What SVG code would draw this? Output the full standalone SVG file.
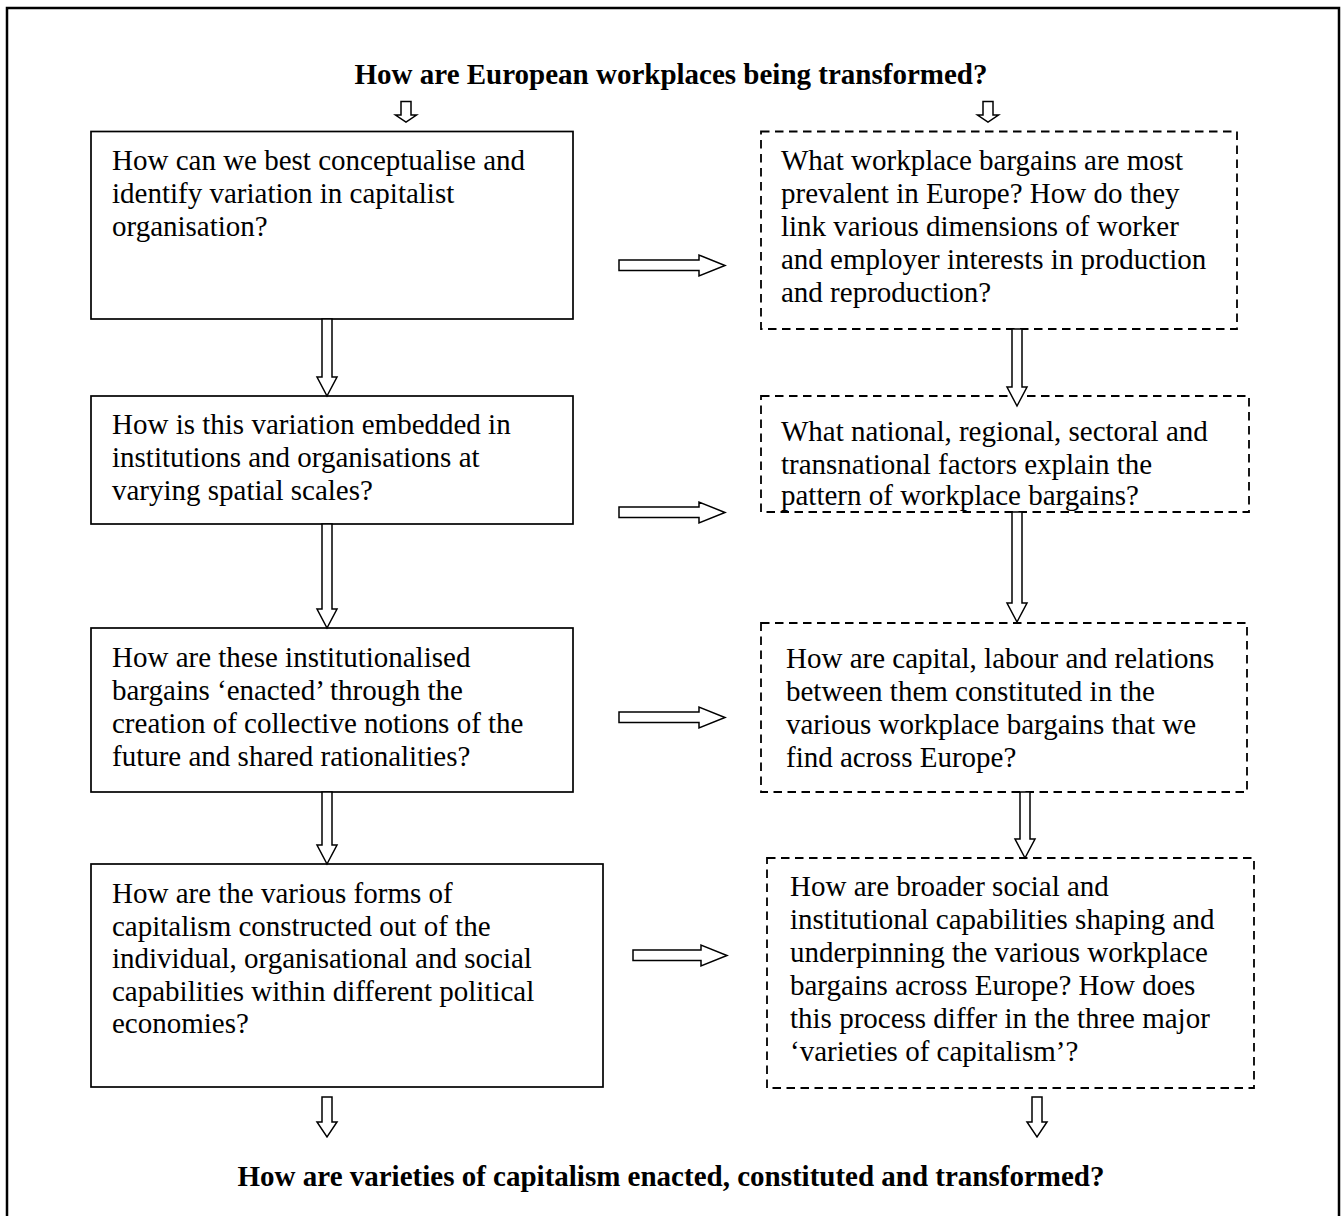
<svg xmlns="http://www.w3.org/2000/svg" width="1341" height="1216" viewBox="0 0 1341 1216">
<style>
text{font-family:"Liberation Serif","Times New Roman",serif;font-size:29px;fill:#000}
.title{font-weight:bold;text-anchor:middle}
.box{fill:#fff;stroke:#000;stroke-width:1.7}
.dbox{fill:#fff;stroke:#000;stroke-width:1.8;stroke-dasharray:8.5 5.5}
.arr{fill:#fff;stroke:#000;stroke-width:1.5;stroke-linejoin:miter}
</style>
<rect x="0" y="0" width="1341" height="1216" fill="#fff"/>
<rect x="7" y="8" width="1332" height="1230" fill="none" stroke="#000" stroke-width="2.5"/>
<text id="title-top" class="title" x="671" y="84">How are European workplaces being transformed?</text>
<text id="title-bottom" class="title" x="671" y="1186">How are varieties of capitalism enacted, constituted and transformed?</text>
<g id="L1"><rect class="box" x="91" y="131.5" width="482" height="187.5"/>
<text x="112" y="169.5">How can we best conceptualise and</text>
<text x="112" y="202.5">identify variation in capitalist</text>
<text x="112" y="235.5">organisation?</text></g>
<g id="L2"><rect class="box" x="91" y="396" width="482" height="128"/>
<text x="112" y="434">How is this variation embedded in</text>
<text x="112" y="467">institutions and organisations at</text>
<text x="112" y="500">varying spatial scales?</text></g>
<g id="L3"><rect class="box" x="91" y="628" width="482" height="164"/>
<text x="112" y="667">How are these institutionalised</text>
<text x="112" y="700">bargains ‘enacted’ through the</text>
<text x="112" y="733">creation of collective notions of the</text>
<text x="112" y="766">future and shared rationalities?</text></g>
<g id="L4"><rect class="box" x="91" y="864" width="512" height="223"/>
<text x="112" y="903">How are the various forms of</text>
<text x="112" y="935.5">capitalism constructed out of the</text>
<text x="112" y="968">individual, organisational and social</text>
<text x="112" y="1000.5">capabilities within different political</text>
<text x="112" y="1033">economies?</text></g>
<g id="R1"><rect class="dbox" x="761" y="131.5" width="476" height="197.5"/>
<text x="781" y="169.5">What workplace bargains are most</text>
<text x="781" y="202.5">prevalent in Europe? How do they</text>
<text x="781" y="235.5">link various dimensions of worker</text>
<text x="781" y="268.5">and employer interests in production</text>
<text x="781" y="301.5">and reproduction?</text></g>
<g id="R2"><rect class="dbox" x="761" y="396" width="488" height="116"/>
<text x="781" y="441">What national, regional, sectoral and</text>
<text x="781" y="473.5">transnational factors explain the</text>
<text x="781" y="505">pattern of workplace bargains?</text></g>
<g id="R3"><rect class="dbox" x="761" y="623" width="486" height="169"/>
<text x="786" y="668">How are capital, labour and relations</text>
<text x="786" y="701">between them constituted in the</text>
<text x="786" y="734">various workplace bargains that we</text>
<text x="786" y="767">find across Europe?</text></g>
<g id="R4"><rect class="dbox" x="767" y="858" width="487" height="230"/>
<text x="790" y="896">How are broader social and</text>
<text x="790" y="929">institutional capabilities shaping and</text>
<text x="790" y="962">underpinning the various workplace</text>
<text x="790" y="995">bargains across Europe? How does</text>
<text x="790" y="1028">this process differ in the three major</text>
<text x="790" y="1061">‘varieties of capitalism’?</text></g>
<g id="connectors">
<path class="arr" d="M401 101.5H411V115H416.5L406 122L395.5 115H401Z"/>
<path class="arr" d="M983 101.5H993V115H998.5L988 122L977.5 115H983Z"/>
<path class="arr" d="M322 319H332V377H337L327 396L317 377H322Z"/>
<path class="arr" d="M322 524H332V609H337L327 628L317 609H322Z"/>
<path class="arr" d="M322 792H332V845H337L327 864L317 845H322Z"/>
<path class="arr" d="M322 1097H332V1122H337L327 1137L317 1122H322Z"/>
<path class="arr" d="M1012 329H1022V387H1027L1017 406L1007 387H1012Z"/>
<path class="arr" d="M1012 512H1022V603H1027L1017 622L1007 603H1012Z"/>
<path class="arr" d="M1020 792H1030V839H1035L1025 858L1015 839H1020Z"/>
<path class="arr" d="M1032 1097H1042V1122H1047L1037 1137L1027 1122H1032Z"/>
<path class="arr" d="M619 260H699V255L725 265.5L699 276V270.5H619Z"/>
<path class="arr" d="M619 507H699V502L725 512.5L699 523V517.5H619Z"/>
<path class="arr" d="M619 712H699V707L725 717.5L699 728V722.5H619Z"/>
<path class="arr" d="M633 950H701V945L727 955.5L701 966V960.5H633Z"/>
</g>
</svg>
